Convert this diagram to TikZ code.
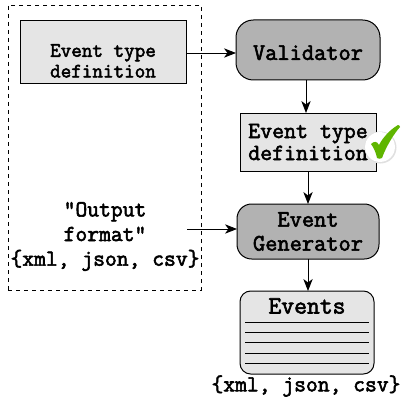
\documentclass[tikz,border=0pt]{standalone}
\usepackage{fontspec}
\newfontfamily\cour{Latin Modern Mono}[FakeBold=2.5]
\usetikzlibrary{arrows.meta}
\definecolor{tick}{HTML}{5FB500}
\tikzset{
  x=0.75pt,y=-0.75pt,
  base/.style={draw=black,line width=0.75pt,inner sep=0pt,outer sep=0pt,align=center,font=\fontsize{17.8}{18}\selectfont\cour},
  light/.style={base,fill=black!10},
  dark/.style={base,fill=black!30,rounded corners=13pt},
  plain/.style={inner sep=0pt,outer sep=0pt,align=center,font=\fontsize{17.2}{18.5}\selectfont\cour},
  conn/.style={draw=black,line width=0.65pt,-{Stealth[length=9pt,width=7pt,inset=2.6pt]}},
  rule/.style={draw=black,line width=0.75pt},
}
\begin{document}
\begin{tikzpicture}
\useasboundingbox (0,0) rectangle (402,399);
\node[draw=black,dashed,line width=0.6pt,minimum width=144.75pt,minimum height=213.75pt,inner sep=0pt,outer sep=0pt] (frame) at (104.5,147.5) {};
\node[light,font=\fontsize{15.4}{15.5}\selectfont\cour,minimum width=124.5pt,minimum height=47.25pt] (def) at (103,52.5) {\rule{0pt}{22pt}Event type\\definition};
\node[dark,minimum width=108pt,minimum height=45pt] (val) at (308,50) {\rule{0pt}{15pt}Validator};
\node[light,font=\fontsize{17.4}{16.5}\selectfont\cour,minimum width=102pt,minimum height=43.5pt] (def2) at (308,142) {Event type\\definition\hspace*{0pt}};
\node[dark,minimum width=106.5pt,minimum height=41.25pt,rounded corners=11pt] (gen) at (308,231.5) {Event\\Generator};
\node[light,rounded corners=8pt,minimum width=100.5pt,minimum height=62.25pt] (ev) at (307,332.5) {};
\node[plain,font=\fontsize{18.7}{18}\selectfont\cour] (evt) at (307,306) {Events};
\node[plain] (out) at (105,236.5) {"Output\\format"\\\{xml, json, csv\}};
\node[plain] (fmt) at (306,386) {\{xml, json, csv\}};
\coordinate (outend) at (187,229);
\foreach \y in {322,332,342,353,363}
  \draw[rule] (245,\y) -- (369,\y);
\draw[conn] (def.east |- 0,53) -- (val.west |- 0,53);
\draw[conn] ([xshift=-1.5pt]val.south) -- ([xshift=-1.5pt]def2.north);
\draw[conn] (def2.south) -- (gen.north);
\draw[conn] (gen.south) -- (ev.north -| gen.south);
\draw[conn] (outend) -- (gen.west |- outend);
% check mark badge
\fill[black!12] (380.5,147.5) circle (12pt);
\fill[white] (380,147) circle (11.2pt);
\fill[tick] (371,144) .. controls (374,141) and (377,141) .. (379,145) .. controls (383,137) and (391,129) .. (398,125) .. controls (399,125) and (400,126) .. (400,127) .. controls (393,135) and (386,147) .. (382,158) .. controls (381,159) and (378,159) .. (377,158) .. controls (376,153) and (374,148) .. (371,144) -- cycle;
\end{tikzpicture}
\end{document}
